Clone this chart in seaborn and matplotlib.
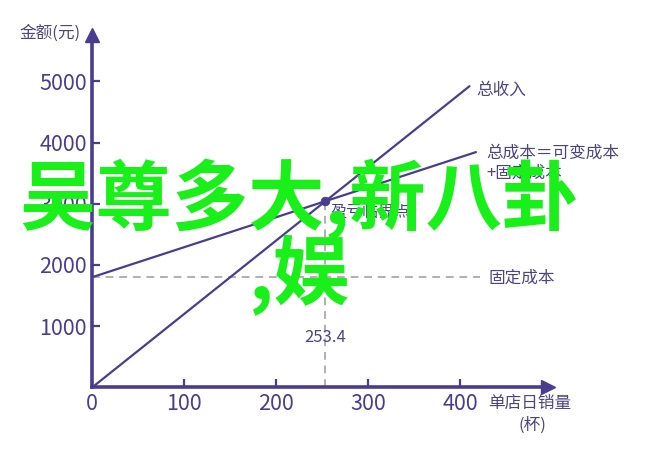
import matplotlib
matplotlib.use("Agg")
import matplotlib.pyplot as plt
import seaborn as sns
import pandas as pd

sns.set_theme(style="white")
plt.rcParams['font.family'] = ['Noto Sans CJK SC', 'DejaVu Sans']

# ---- data ----
revenue_x = [0, 410]
revenue_y = [0, 4920]
cost_x = [0, 417]
cost_y = [1800, 3843]
fixed_x = [0, 421]
fixed_y = [1800, 1800]
breakeven_x = [253.4]
breakeven_y = [3040]
x_ticks = [0, 100, 200, 300, 400]
y_ticks = [1000, 2000, 3000, 4000, 5000]

PURPLE = "#4a3d8f"
TXT = "#4d4580"
GRAY = "#b0aebb"
GREEN = "#19f019"

W, H = 649, 451
fig = plt.figure(figsize=(W / 100, H / 100), dpi=100)
fig.patch.set_facecolor("white")

def px(x, y):
    return x / W, 1 - y / H

left, bottom = px(92.3, 387.3)
ax = fig.add_axes([left, bottom, 495 * 0.92 / W, 5750 * 0.0612 / H])
ax.set_xlim(0, 495)
ax.set_ylim(0, 5750)
ax.set_facecolor("white")

rev = pd.DataFrame({"x": revenue_x, "y": revenue_y})
cost = pd.DataFrame({"x": cost_x, "y": cost_y})
fixed = pd.DataFrame({"x": fixed_x, "y": fixed_y})

sns.lineplot(data=fixed, x="x", y="y", ax=ax, color=GRAY, lw=1.4,
             linestyle=(0, (4, 3)), zorder=2)
ax.plot([breakeven_x[0], breakeven_x[0]], [0, breakeven_y[0]], color=GRAY,
        lw=1.4, linestyle=(0, (4, 3)), zorder=2)
sns.lineplot(data=rev, x="x", y="y", ax=ax, color=PURPLE, lw=1.6, zorder=3)
sns.lineplot(data=cost, x="x", y="y", ax=ax, color=PURPLE, lw=1.6, zorder=3)
sns.scatterplot(x=breakeven_x, y=breakeven_y, ax=ax, color=PURPLE, s=40,
                zorder=4, edgecolor=PURPLE)

for s in ["top", "right"]:
    ax.spines[s].set_visible(False)
for s in ["left", "bottom"]:
    ax.spines[s].set_color(PURPLE)
    ax.spines[s].set_linewidth(2.6)
ax.set_xticks(x_ticks)
ax.set_yticks(y_ticks)
ax.set_xticklabels([str(v) for v in x_ticks])
ax.set_yticklabels([str(v) for v in y_ticks])
ax.tick_params(axis="both", direction="in", length=6, width=1.6, color=PURPLE,
               labelcolor=PURPLE, labelsize=15.5)
ax.tick_params(axis="x", pad=4, bottom=True)
ax.tick_params(axis="y", pad=4, left=True)
ax.set_xlabel("")
ax.set_ylabel("")

# arrow heads
ax.plot([1], [0], marker=">", ms=10, color=PURPLE, transform=ax.transAxes,
        clip_on=False, zorder=5)
ax.plot([0], [1], marker="^", ms=10, color=PURPLE, transform=ax.transAxes,
        clip_on=False, zorder=5)

def ftext(x, y, s, ha="left", size=12, color=TXT, **kw):
    fx, fy = px(x, y)
    fig.text(fx, fy, s, ha=ha, va="center", fontsize=size, color=color, **kw)

ftext(20, 33, "金额(元)")
ftext(476, 90, "总收入")
ftext(486, 153, "总成本＝可变成本")
ftext(486, 173, "+固定成本")
ftext(488, 278, "固定成本")
ftext(330, 212, "盈亏临界点", size=11.5)
ftext(325, 337, "253.4", ha="center", size=12)
ftext(488, 403, "单店日销量")
ftext(532, 425, "(杯)", ha="center")

# overlay text
ftext(299, 200, "吴尊多大,新八卦", ha="center", size=55, color=GREEN,
      fontweight="bold", zorder=10)
ftext(299, 275, ",娱", ha="center", size=55, color=GREEN,
      fontweight="bold", zorder=10)

fig.savefig("out.png", dpi=100, facecolor="white")
